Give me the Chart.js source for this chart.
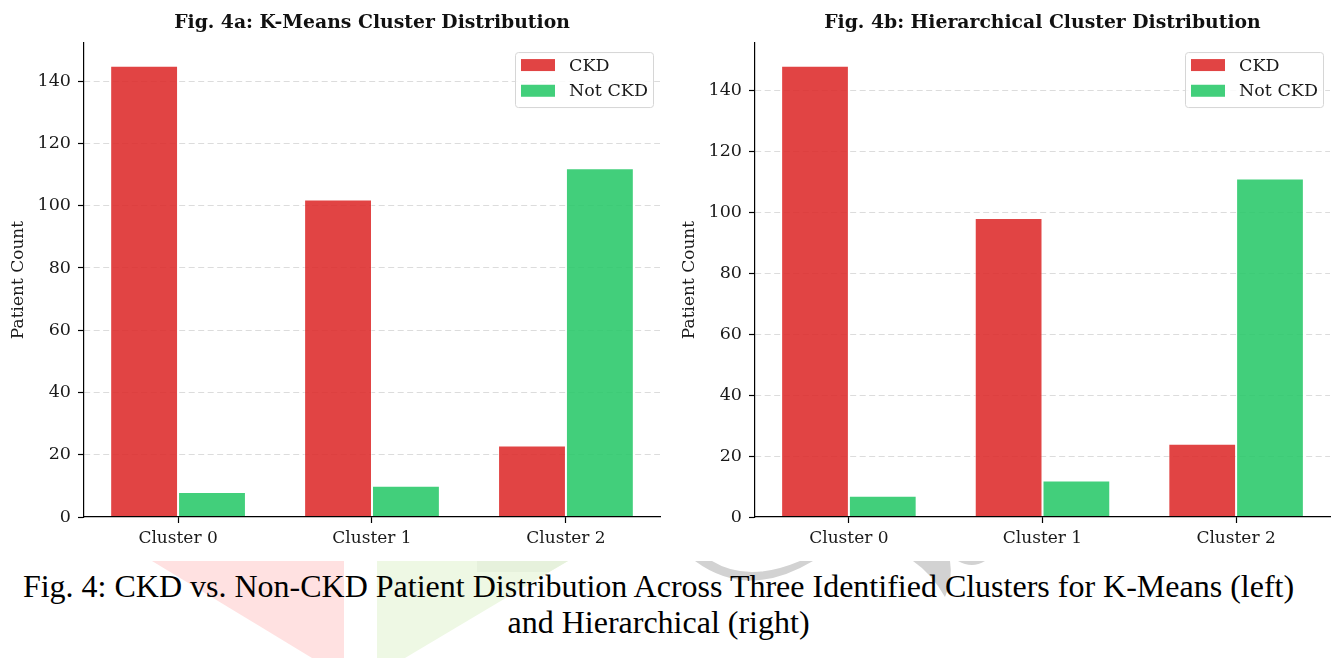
<!DOCTYPE html>
<html>
<head>
<meta charset="utf-8">
<script src="https://cdn.jsdelivr.net/npm/chart.js@4.4.1/dist/chart.umd.min.js"></script>
<style>
  html, body { margin: 0; padding: 0; background: #fff; }
  #page { position: relative; width: 1338px; height: 658px; overflow: hidden; background: #fff; }
  #decor { position: absolute; left: 0; top: 0; }
  .panel { position: absolute; top: 0; height: 560px; }
  #caption {
    position: absolute; left: 0; top: 568px; width: 1317px;
    text-align: center; white-space: nowrap; color: #000;
    font: 32px "Liberation Serif", "Times New Roman", serif; line-height: 36px;
  }
</style>
</head>
<body>
<div id="page">
  <svg id="decor" width="1338" height="658">
    <polygon points="152,561 344,561 344,658 312,658" fill="#ffe1e1"/>
    <polygon points="377,561 568,561 405,658 377,658" fill="#eef8e4"/>
    <polygon points="477,561 568,561 549,572 477,572" fill="#e6f1dc"/>
    <path d="M695,561 Q748,600 813,561 L800,561 Q748,583 712,561 Z" fill="#d2d2d2"/>
    <path d="M913,561 L950,561 Q953,580 945,597 Q932,574 913,561 Z" fill="#d2d2d2"/>
    <path d="M958,561 L985,561 Q972,569 958,561 Z" fill="#d2d2d2"/>
  </svg>
  <div class="panel" style="left:0;width:670px"><canvas id="kmeans" width="670" height="560"></canvas></div>
  <div class="panel" style="left:671px;width:667px"><canvas id="hier" width="667" height="560"></canvas></div>
  <div id="caption">Fig. 4: CKD vs. Non-CKD Patient Distribution Across Three Identified Clusters for K-Means (left)<br>and Hierarchical (right)</div>
</div>
<script>
// Patient counts per cluster
const clusters = ['Cluster 0', 'Cluster 1', 'Cluster 2'];
const seriesNames = ['CKD', 'Not CKD'];
const kmeansCKD = [145, 102, 23];
const kmeansNotCKD = [8, 10, 112];
const hierCKD = [148, 98, 24];
const hierNotCKD = [7, 12, 111];
const countTicks = [0, 20, 40, 60, 80, 100, 120, 140];

const RED = 'rgba(220,40,40,0.87)';
const GREEN = 'rgba(40,200,105,0.88)';
const SERIF = '"DejaVu Serif", serif';
const BAR_W = 0.35;

// Legend box drawn in the upper-right corner of the plot area
const boxLegend = {
  id: 'boxLegend',
  afterDraw(chart) {
    const { ctx, chartArea } = chart;
    const w = 138, h = 55;
    const x0 = chartArea.right - 7 - w, y0 = chartArea.top + 9;
    ctx.save();
    ctx.beginPath();
    ctx.roundRect(x0 + 0.5, y0 + 0.5, w, h, 3);
    ctx.fillStyle = 'rgba(255,255,255,0.85)';
    ctx.fill();
    ctx.strokeStyle = '#d6d6d6';
    ctx.lineWidth = 1;
    ctx.stroke();
    ctx.font = '17.5px ' + SERIF;
    ctx.textBaseline = 'middle';
    chart.data.datasets.forEach((ds, i) => {
      const cy = y0 + 13 + i * 25.7;
      ctx.fillStyle = ds.backgroundColor;
      ctx.fillRect(x0 + 6, cy - 6, 34, 12);
      ctx.fillStyle = '#1a1a1a';
      ctx.fillText(ds.label, x0 + 54, cy + 1);
    });
    ctx.restore();
  }
};

function makeChart(id, titleText, ckd, notCkd, padRight) {
  const n = clusters.length;
  const margin = 0.05 * ((n - 1) + 2 * BAR_W);
  const yMax = Math.max(...ckd, ...notCkd) * 1.05;
  return new Chart(document.getElementById(id), {
    type: 'bar',
    data: {
      datasets: [
        { label: seriesNames[0], data: ckd.map((v, i) => ({ x: i, y: v })),
          backgroundColor: RED, borderColor: 'rgba(255,255,255,0.5)', borderWidth: 1 },
        { label: seriesNames[1], data: notCkd.map((v, i) => ({ x: i, y: v })),
          backgroundColor: GREEN, borderColor: 'rgba(255,255,255,0.5)', borderWidth: 1 }
      ]
    },
    options: {
      responsive: false,
      animation: false,
      devicePixelRatio: 1,
      layout: { padding: { left: 0, right: padRight, top: 0, bottom: 0 } },
      datasets: { bar: { categoryPercentage: 2 * BAR_W, barPercentage: 1, grouped: true } },
      plugins: {
        legend: { display: false },
        tooltip: { enabled: false },
        title: {
          display: true, text: titleText, color: '#111', fullSize: false,
          font: { family: SERIF, size: 18.8, weight: 'bold' },
          padding: { top: 12, bottom: 8.5 }
        }
      },
      scales: {
        x: {
          type: 'linear',
          bounds: 'data',
          offset: false,
          min: -BAR_W - margin,
          max: (n - 1) + BAR_W + margin,
          afterBuildTicks: (s) => { s.ticks = clusters.map((c, i) => ({ value: i })); },
          afterFit: (s) => { s.height = 43; },
          ticks: {
            color: '#1a1a1a', padding: 5, maxRotation: 0, autoSkip: false,
            font: { family: SERIF, size: 17 },
            callback: (v) => clusters[v]
          },
          grid: { display: true, drawOnChartArea: false, drawTicks: true, tickLength: 6,
                  tickColor: '#000', tickWidth: 1.2, color: '#000', offset: false },
          border: { display: true, color: '#000', width: 1.2, z: 1 }
        },
        y: {
          min: 0,
          max: yMax,
          afterBuildTicks: (s) => { s.ticks = countTicks.map(v => ({ value: v })); },
          afterFit: (s) => { s.width = 84; },
          title: {
            display: true, text: 'Patient Count', color: '#1a1a1a',
            font: { family: SERIF, size: 17 }, padding: { top: 8, bottom: 0 }
          },
          ticks: { color: '#1a1a1a', padding: 7, font: { family: SERIF, size: 17.5 } },
          grid: {
            color: (c) => (c.tick && c.tick.value === 0) ? 'rgba(0,0,0,0)' : '#dcdcdc',
            lineWidth: 1, drawTicks: true, tickLength: 6, tickColor: '#000', tickWidth: 1.2
          },
          border: { display: true, color: '#000', width: 1.2, dash: [6, 3.5], z: 1 }
        }
      }
    },
    plugins: [boxLegend]
  });
}

makeChart('kmeans', 'Fig. 4a: K-Means Cluster Distribution', kmeansCKD, kmeansNotCKD, 10);
makeChart('hier', 'Fig. 4b: Hierarchical Cluster Distribution', hierCKD, hierNotCKD, 8);
</script>
</body>
</html>
